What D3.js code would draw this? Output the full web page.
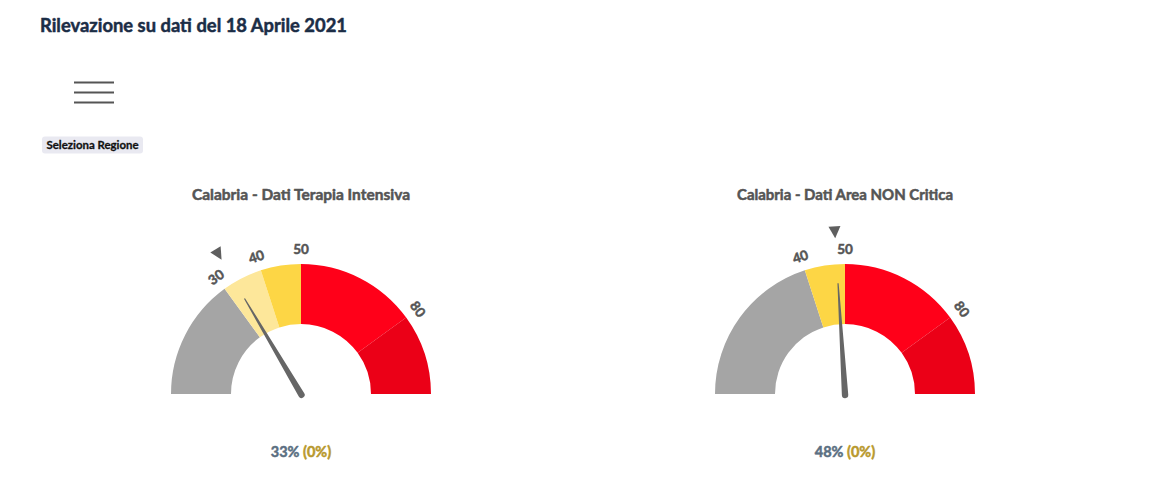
<!DOCTYPE html>
<html>
<head>
<meta charset="utf-8">
<script src="https://cdn.jsdelivr.net/npm/d3@7"></script>
<style>
  html, body { margin: 0; padding: 0; background: #fff; }
  svg { display: block; }
  text { font-family: Lato, "Open Sans", sans-serif; }
  text.heavy, text.heavy tspan { stroke-width: 0.5px; stroke-linejoin: round; }
</style>
</head>
<body>
<svg id="chart" width="1158" height="481"></svg>
<script>
// ---- data ----
const pageTitle = "Rilevazione su dati del 18 Aprile 2021";
const buttonLabel = "Seleziona Regione";
const gaugeTitles = ["Calabria - Dati Terapia Intensiva", "Calabria - Dati Area NON Critica"];
const gaugeValues = [33, 48];
const gaugeChanges = ["(0%)", "(0%)"];
const bandStarts1 = [0, 30, 40, 50, 80];
const bandEnds1   = [30, 40, 50, 80, 100];
const bandStarts2 = [0, 40, 50, 80];
const bandEnds2   = [40, 50, 80, 100];
const bandColors1 = ["#a5a5a5", "#fde79a", "#fdd645", "#ff0019", "#eb0017"];
const bandColors2 = ["#a5a5a5", "#fdd645", "#ff0019", "#eb0017"];
const tickLabels1 = [30, 40, 50, 80];
const tickLabels2 = [40, 50, 80];

const svg = d3.select("#chart");

// header
svg.append("text").attr("class", "heavy")
  .attr("x", 40).attr("y", 32)
  .attr("font-size", 19).attr("font-weight", 700)
  .attr("fill", "#1b2d46").attr("stroke", "#1b2d46")
  .attr("textLength", 307).attr("lengthAdjust", "spacingAndGlyphs")
  .text(pageTitle);

// hamburger
svg.append("g").selectAll("line").data([0, 1, 2]).join("line")
  .attr("x1", 74).attr("x2", 114)
  .attr("y1", d => 82.5 + d * 10).attr("y2", d => 82.5 + d * 10)
  .attr("stroke", "#555").attr("stroke-width", 2);

// button
svg.append("rect").attr("x", 42).attr("y", 136.5).attr("width", 101).attr("height", 17)
  .attr("rx", 3).attr("fill", "#e9e9f1");
svg.append("text").attr("class", "heavy").attr("x", 92.5).attr("y", 148.5)
  .attr("text-anchor", "middle").attr("font-size", 11).attr("font-weight", 700)
  .attr("fill", "#111").attr("stroke", "#111").style("stroke-width", "0.3px")
  .attr("textLength", 92).attr("lengthAdjust", "spacingAndGlyphs")
  .text(buttonLabel);

const gauges = [
  { cx: 301, starts: bandStarts1, ends: bandEnds1, colors: bandColors1, ticks: tickLabels1 },
  { cx: 845, starts: bandStarts2, ends: bandEnds2, colors: bandColors2, ticks: tickLabels2 }
];
const cy = 394, rOuter = 130, rInner = 70;
const angle = d3.scaleLinear().domain([0, 100]).range([-Math.PI / 2, Math.PI / 2]);
const arc = d3.arc().innerRadius(rInner).outerRadius(rOuter);

gauges.forEach((g, i) => {
  const gg = svg.append("g").attr("transform", `translate(${g.cx},${cy})`);

  // title
  svg.append("text").attr("class", "heavy").attr("x", g.cx).attr("y", 200)
    .attr("text-anchor", "middle").attr("font-size", 14.5).attr("font-weight", 700)
    .attr("fill", "#555").attr("stroke", "#555")
    .attr("textLength", i === 0 ? 218 : 216).attr("lengthAdjust", "spacingAndGlyphs")
    .text(gaugeTitles[i]);

  // bands
  gg.selectAll("path.band").data(g.starts.map((s, k) => ({ s, e: g.ends[k], c: g.colors[k] })))
    .join("path").attr("class", "band")
    .attr("d", d => arc({ startAngle: angle(d.s), endAngle: angle(d.e) }))
    .attr("fill", d => d.c);

  // tick labels
  gg.selectAll("text.tick").data(g.ticks).join("text").attr("class", "tick heavy")
    .attr("transform", d => {
      const a = angle(d), r = 144.5;
      return `translate(${r * Math.sin(a)},${-r * Math.cos(a)}) rotate(${a * 180 / Math.PI})`;
    })
    .attr("text-anchor", "middle").attr("dy", "0.36em")
    .attr("font-size", 13.5).attr("font-weight", 700)
    .attr("fill", "#555").attr("stroke", "#555")
    .text(d => d);

  // marker triangle
  const v = gaugeValues[i];
  const a = angle(v) * 180 / Math.PI;
  gg.append("path")
    .attr("d", "M-6,-168 L6,-168 L0,-156 Z")
    .attr("transform", `rotate(${a})`)
    .attr("fill", "#5f5f5f");

  // needle
  gg.append("path")
    .attr("d", "M-3.2,1 L-0.6,-111 L0.6,-111 L3.2,1 A3.2,3.2 0 0 1 -3.2,1 Z")
    .attr("transform", `rotate(${a})`)
    .attr("fill", "#666");

  // value text
  const vt = svg.append("text").attr("class", "heavy").attr("x", g.cx).attr("y", 457)
    .attr("text-anchor", "middle").attr("font-size", 14.5).attr("font-weight", 700);
  vt.append("tspan").attr("fill", "#5b6f82").attr("stroke", "#5b6f82").text(v + "%");
  vt.append("tspan").attr("fill", "#b8992e").attr("stroke", "#b8992e").text(" " + gaugeChanges[i]);
});
</script>
</body>
</html>
